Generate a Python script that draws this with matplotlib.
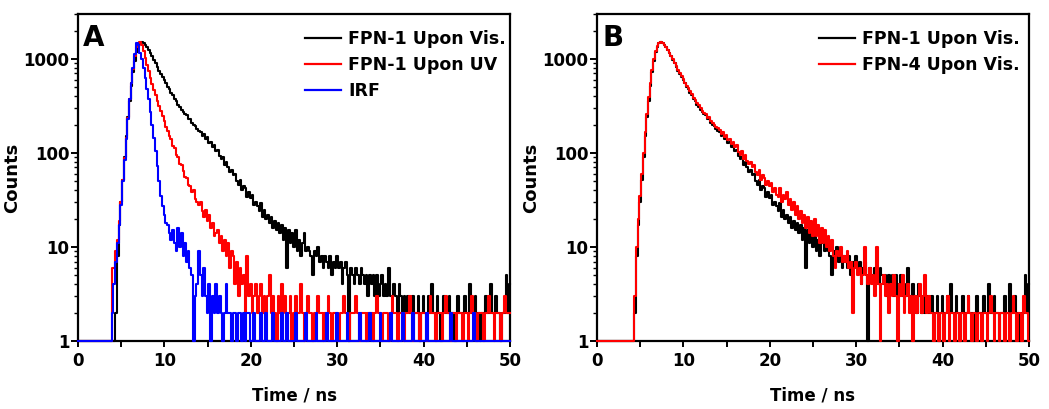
import numpy as np
import matplotlib
matplotlib.use("Agg")
import matplotlib.pyplot as plt
from matplotlib.ticker import LogLocator, NullFormatter, FixedLocator

plt.rcParams['font.family'] = ['DejaVu Sans']
plt.rcParams['font.weight'] = 'bold'

# time axis (ns), 0.2 ns channels
time_ns = np.round(np.arange(0, 50.0001, 0.2), 2)

fpn1_vis = [
    1, 1, 1, 1, 1, 1, 1, 1, 1, 1,
    1, 1, 1, 1, 1, 1, 1, 1, 1, 1,
    1, 1, 2, 8, 17, 30, 52, 90, 150, 240,
    360, 520, 720, 950, 1170, 1350, 1460, 1500, 1490, 1420,
    1330, 1240, 1150, 1060, 975, 895, 820, 750, 690, 635,
    590, 548, 505, 475, 438, 410, 372, 355, 326, 310,
    288, 275, 258, 250, 228, 230, 208, 200, 192, 180,
    172, 168, 152, 160, 140, 146, 128, 132, 116, 120,
    104, 108, 92, 86, 90, 74, 80, 70, 62, 66,
    58, 60, 50, 46, 52, 40, 44, 42, 34, 38,
    33, 36, 28, 30, 27, 24, 29, 21, 25, 20,
    22, 18, 21, 16, 19, 15, 18, 14, 17, 12,
    16, 6, 15, 11, 14, 10, 15, 9, 12, 8,
    11, 14, 9, 10, 9, 8, 5, 9, 8, 10,
    7, 8, 6, 8, 7, 6, 8, 5, 7, 6,
    8, 6, 7, 4, 6, 7, 5, 1, 6, 5,
    4, 6, 5, 4, 6, 5, 4, 5, 3, 5,
    4, 5, 3, 5, 3, 4, 5, 3, 4, 3,
    6, 3, 3, 4, 3, 2, 4, 3, 2, 3,
    2, 3, 2, 2, 3, 2, 2, 3, 1, 2,
    3, 2, 2, 3, 2, 4, 2, 2, 3, 2,
    1, 2, 3, 2, 2, 3, 2, 2, 1, 2,
    3, 2, 2, 2, 3, 2, 2, 4, 2, 2,
    3, 2, 2, 1, 2, 2, 3, 2, 2, 4,
    2, 2, 3, 2, 2, 1, 2, 2, 5, 2,
    4,
]

fpn1_uv = [
    1, 1, 1, 1, 1, 1, 1, 1, 1, 1,
    1, 1, 1, 1, 1, 1, 1, 1, 1, 1,
    6, 6, 9, 12, 19, 30, 52, 88, 145, 235,
    370, 550, 780, 1060, 1330, 1470, 1500, 1400, 1200, 1020,
    870, 740, 630, 540, 470, 410, 360, 315, 280, 245,
    220, 190, 172, 150, 140, 118, 112, 96, 90, 76,
    74, 64, 56, 54, 46, 44, 38, 40, 32, 30,
    28, 30, 24, 21, 25, 19, 22, 16, 18, 13,
    14, 15, 11, 13, 9, 12, 8, 11, 6, 9,
    8, 4, 7, 3, 6, 4, 5, 2, 8, 3,
    4, 2, 3, 4, 2, 3, 4, 2, 3, 2,
    3, 5, 2, 3, 2, 1, 3, 2, 4, 2,
    3, 2, 2, 3, 1, 2, 3, 2, 2, 4,
    2, 1, 2, 3, 2, 2, 1, 2, 2, 3,
    2, 2, 1, 2, 2, 3, 2, 1, 2, 2,
    2, 1, 2, 2, 3, 2, 2, 1, 2, 2,
    2, 3, 2, 1, 2, 2, 2, 1, 2, 2,
    2, 1, 2, 3, 2, 2, 1, 2, 2, 2,
    1, 2, 3, 2, 2, 1, 2, 2, 2, 1,
    2, 2, 3, 2, 1, 2, 2, 2, 1, 2,
    2, 2, 1, 2, 3, 2, 2, 1, 2, 2,
    2, 1, 2, 3, 2, 2, 1, 2, 2, 1,
    2, 2, 2, 1, 2, 2, 1, 2, 3, 2,
    2, 1, 2, 2, 2, 1, 2, 2, 3, 2,
    2, 1, 2, 2, 2, 1, 2, 3, 2, 2,
    2,
]

irf = [
    1, 1, 1, 1, 1, 1, 1, 1, 1, 1,
    1, 1, 1, 1, 1, 1, 1, 1, 1, 1,
    2, 4, 7, 11, 17, 28, 50, 85, 140, 230,
    370, 560, 800, 1120, 1460, 1400, 1150, 1000, 800, 620,
    480, 370, 270, 200, 145, 105, 72, 50, 35, 27,
    22, 18, 17, 14, 12, 15, 11, 9, 16, 10,
    14, 8, 11, 7, 9, 6, 5, 1, 3, 4,
    9, 5, 3, 6, 3, 2, 4, 1, 3, 2,
    4, 2, 3, 2, 1, 2, 4, 2, 2, 1,
    2, 2, 1, 2, 2, 1, 2, 1, 2, 2,
    1, 1, 2, 1, 1, 1, 2, 1, 1, 2,
    1, 1, 1, 2, 1, 1, 1, 1, 2, 1,
    1, 2, 1, 1, 1, 1, 2, 1, 1, 1,
    1, 1, 2, 1, 1, 1, 1, 1, 2, 1,
    1, 1, 1, 1, 2, 1, 1, 1, 1, 1,
    2, 1, 1, 1, 1, 1, 2, 1, 1, 1,
    1, 1, 1, 2, 1, 1, 1, 1, 1, 2,
    1, 1, 1, 1, 1, 2, 1, 1, 1, 1,
    1, 2, 1, 1, 1, 1, 1, 1, 2, 1,
    1, 1, 1, 1, 2, 1, 1, 1, 1, 1,
    1, 1, 2, 1, 1, 1, 1, 1, 1, 1,
    1, 1, 1, 1, 1, 1, 2, 1, 1, 1,
    1, 1, 1, 1, 1, 1, 1, 1, 1, 2,
    1, 1, 1, 1, 1, 1, 1, 1, 1, 1,
    1, 1, 1, 1, 1, 1, 1, 1, 1, 1,
    1,
]

fpn4_vis = [
    1, 1, 1, 1, 1, 1, 1, 1, 1, 1,
    1, 1, 1, 1, 1, 1, 1, 1, 1, 1,
    1, 1, 3, 10, 20, 35, 60, 100, 165, 260,
    390, 560, 770, 1000, 1210, 1380, 1480, 1500, 1480, 1410,
    1330, 1245, 1160, 1075, 990, 910, 835, 765, 705, 650,
    605, 560, 512, 488, 450, 420, 386, 368, 336, 320,
    298, 282, 265, 258, 236, 240, 216, 210, 200, 188,
    182, 176, 160, 168, 146, 154, 136, 140, 124, 130,
    116, 120, 102, 96, 104, 86, 94, 82, 76, 80,
    70, 74, 62, 58, 66, 52, 58, 54, 46, 50,
    44, 48, 38, 42, 36, 34, 42, 30, 36, 32,
    38, 28, 32, 25, 30, 22, 27, 20, 24, 18,
    22, 16, 21, 14, 19, 13, 20, 13, 17, 11,
    16, 11, 15, 10, 13, 9, 12, 8, 6, 9,
    8, 10, 7, 8, 7, 9, 6, 7, 2, 6,
    7, 5, 6, 4, 5, 10, 5, 4, 6, 4,
    5, 3, 10, 4, 1, 4, 5, 3, 4, 2,
    4, 3, 5, 3, 1, 4, 3, 5, 2, 3,
    4, 2, 3, 1, 3, 2, 3, 4, 2, 3,
    5, 2, 3, 2, 2, 1, 2, 2, 1, 2,
    2, 1, 2, 3, 1, 2, 2, 1, 2, 2,
    1, 2, 2, 1, 2, 3, 2, 1, 2, 2,
    1, 2, 2, 1, 2, 2, 1, 2, 3, 2,
    1, 2, 2, 1, 2, 2, 1, 2, 2, 1,
    2, 3, 2, 1, 2, 2, 1, 3, 2, 2,
    1,
]

panel_a_series = [("FPN-1 Upon Vis.", fpn1_vis, "#000000"),
                  ("FPN-1 Upon UV", fpn1_uv, "#ff0000"),
                  ("IRF", irf, "#0000ff")]
panel_b_series = [("FPN-1 Upon Vis.", fpn1_vis, "#000000"),
                  ("FPN-4 Upon Vis.", fpn4_vis, "#ff0000")]

xticks = [0, 10, 20, 30, 40, 50]
yticks = [1, 10, 100, 1000]
ytick_labels = ["1", "10", "100", "1000"]

fig = plt.figure(figsize=(10.49, 4.09), dpi=100)
W, H = 1049, 409
axA = fig.add_axes([78 / W, 1 - 341 / H, 432 / W, 327 / H])
axB = fig.add_axes([597 / W, 1 - 341 / H, 432 / W, 327 / H])


def style(ax, series, letter, leg_right_px):
    for name, vals, col in series:
        ax.plot(time_ns, vals, color=col, lw=1.5, label=name,
                drawstyle='steps-mid', zorder=3, clip_on=False)
    ax.set_yscale('log')
    ax.set_xlim(0, 50)
    ax.set_ylim(1, 3000)
    ax.set_xticks(xticks)
    ax.xaxis.set_minor_locator(FixedLocator([5, 15, 25, 35, 45]))
    ax.set_yticks(yticks)
    ax.set_yticklabels(ytick_labels)
    ax.yaxis.set_minor_locator(LogLocator(base=10, subs=np.arange(2, 10)))
    ax.yaxis.set_minor_formatter(NullFormatter())
    for s in ax.spines.values():
        s.set_linewidth(1.6)
    ax.tick_params(axis='x', which='major', direction='out', length=4, width=1.4,
                   labelsize=12, pad=4)
    ax.tick_params(axis='x', which='minor', direction='out', length=4, width=1.4)
    ax.tick_params(axis='y', which='major', direction='out', length=5, width=1.4,
                   labelsize=12, pad=1)
    ax.tick_params(axis='y', which='minor', direction='out', length=3, width=1.0)
    for lab in ax.get_xticklabels() + ax.get_yticklabels():
        lab.set_fontweight('bold')
    ax.set_xlabel("Time / ns", fontsize=12, fontweight='bold', labelpad=12)
    ax.set_ylabel("Counts", fontsize=13, fontweight='bold', labelpad=2)
    ax.text(0.012, 0.969, letter, transform=ax.transAxes, fontsize=20,
            fontweight='bold', ha='left', va='top')
    leg = ax.legend(loc='upper right', frameon=False,
                    bbox_to_anchor=(1 - leg_right_px / 432, 1 - 16.5 / 327),
                    borderaxespad=0, borderpad=0,
                    handlelength=2.1, handletextpad=0.4, labelspacing=0.46,
                    prop={'weight': 'bold', 'size': 12.5})
    for line in leg.get_lines():
        line.set_linewidth(1.6)


style(axA, panel_a_series, "A", 4)
style(axB, panel_b_series, "B", 9)

fig.savefig("out.png", dpi=100)
